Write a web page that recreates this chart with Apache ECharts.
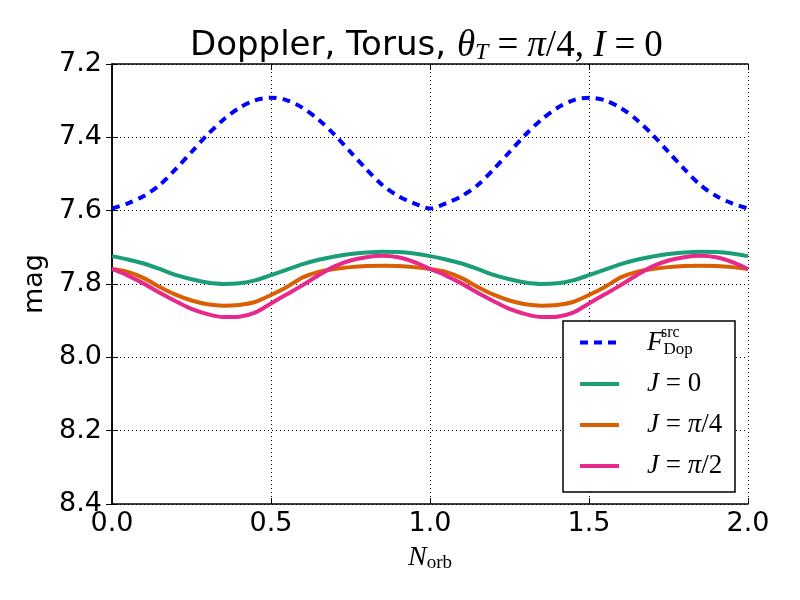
<!DOCTYPE html>
<html>
<head>
<meta charset="utf-8">
<script src="https://cdn.jsdelivr.net/npm/echarts@6/dist/echarts.min.js"></script>
<style>html,body{margin:0;padding:0;background:#fff}#c{width:800px;height:600px}</style>
</head>
<body>
<div id="c"></div>
<script>
// N_orb sample positions
const xs = [0.00,0.05,0.10,0.15,0.20,0.25,0.30,0.35,0.40,0.45,0.50,0.55,0.60,0.65,0.70,0.75,0.80,0.85,0.90,0.95,
            1.00,1.05,1.10,1.15,1.20,1.25,1.30,1.35,1.40,1.45,1.50,1.55,1.60,1.65,1.70,1.75,1.80,1.85,1.90,1.95,2.00];
// F_Dop^src (blue dashed)
const fDop = [7.594,7.580,7.560,7.530,7.487,7.440,7.393,7.352,7.320,7.299,7.292,7.299,7.320,7.352,7.393,7.440,7.487,7.530,7.560,7.580,
              7.594,7.580,7.560,7.530,7.487,7.440,7.393,7.352,7.320,7.299,7.292,7.299,7.320,7.352,7.393,7.440,7.487,7.530,7.560,7.580,7.594];
// J = 0
const j0 = [7.724,7.733,7.744,7.759,7.775,7.787,7.796,7.800,7.798,7.790,7.776,7.761,7.746,7.734,7.725,7.718,7.714,7.712,7.713,7.717,
            7.724,7.733,7.744,7.759,7.775,7.787,7.796,7.800,7.798,7.790,7.776,7.761,7.746,7.734,7.725,7.718,7.714,7.712,7.713,7.717,7.724];
// J = pi/4
const j1 = [7.759,7.767,7.784,7.808,7.829,7.845,7.855,7.859,7.857,7.849,7.830,7.808,7.782,7.767,7.759,7.754,7.751,7.750,7.751,7.754,
            7.759,7.767,7.784,7.808,7.829,7.845,7.855,7.859,7.857,7.849,7.830,7.808,7.782,7.767,7.759,7.754,7.751,7.750,7.751,7.754,7.759];
// J = pi/2
const j2 = [7.759,7.777,7.799,7.824,7.847,7.868,7.882,7.890,7.889,7.878,7.853,7.828,7.803,7.776,7.752,7.736,7.727,7.723,7.727,7.740,
            7.759,7.777,7.799,7.824,7.847,7.868,7.882,7.890,7.889,7.878,7.853,7.828,7.803,7.776,7.752,7.736,7.727,7.723,7.727,7.740,7.759];
const xTicks = [0.0, 0.5, 1.0, 1.5, 2.0];
const yTicks = [7.2, 7.4, 7.6, 7.8, 8.0, 8.2, 8.4];

const pair = arr => xs.map((x, i) => [x, arr[i]]);
const SANS = 'DejaVu Sans';
const SERIF = 'Liberation Serif';
const mathRich = {
  sp: {width: 23, fontSize: 26, lineHeight: 30},
  i: {fontFamily: SERIF, fontStyle: 'italic', fontSize: 27, color: '#000', lineHeight: 30},
  r: {fontFamily: SERIF, fontSize: 27, color: '#000', lineHeight: 30},
  sub: {fontFamily: SERIF, fontSize: 17, color: '#000', lineHeight: 30, padding: [14, 0, 0, 0]}
};

const chart = echarts.init(document.getElementById('c'), null, {renderer: 'canvas'});
const axisCommon = {
  axisLine: {show: true, lineStyle: {color: '#000', width: 1.5}},
  axisTick: {show: true, inside: true, length: 6, lineStyle: {color: '#000', width: 1}},
};
const legendNames = {
  F: '{sp| }{i|F}{sub|Dop}',
  J0: '{sp| }{i|J}{r| = 0}',
  J1: '{sp| }{i|J}{r| = }{i|π}{r|/4}',
  J2: '{sp| }{i|J}{r| = }{i|π}{r|/2}'
};
chart.setOption({
  animation: false,
  backgroundColor: '#fff',
  title: {
    left: 190, top: 26, padding: 0,
    text: '{n|Doppler, Torus,}{g| }{i|θ}{s|T}{e|=}{i|π}{r|/4, }{i|I}{e|=}{r|0}',
    textStyle: {
      fontFamily: SANS, fontWeight: 'normal', fontSize: 34, color: '#000',
      rich: {
        n: {fontFamily: SANS, fontWeight: 'normal', fontSize: 34, color: '#000', lineHeight: 40},
        g: {fontFamily: SANS, fontWeight: 'normal', fontSize: 34, lineHeight: 40, width: 11},
        i: {fontFamily: SERIF, fontWeight: 'normal', fontStyle: 'italic', fontSize: 37, color: '#000', lineHeight: 40},
        r: {fontFamily: SERIF, fontWeight: 'normal', fontSize: 37, color: '#000', lineHeight: 40},
        e: {fontFamily: SERIF, fontWeight: 'normal', fontSize: 37, color: '#000', lineHeight: 40, padding: [0, 9, 0, 9]},
        s: {fontFamily: SERIF, fontWeight: 'normal', fontStyle: 'italic', fontSize: 24, color: '#000', lineHeight: 40, padding: [14, 0, 0, 0]}
      }
    }
  },
  grid: {left: 112, right: 52, top: 64, bottom: 96, containLabel: false},
  xAxis: [
    Object.assign({
      type: 'value', min: 0, max: 2, interval: 0.5, position: 'bottom',
      name: '{i|N}{s|orb}', nameLocation: 'middle', nameGap: 36,
      nameTextStyle: {rich: {
        i: {fontFamily: SERIF, fontStyle: 'italic', fontSize: 28, color: '#000', lineHeight: 32},
        s: {fontFamily: SERIF, fontSize: 19, color: '#000', lineHeight: 32, padding: [12, 0, 0, 0]}
      }},
      axisLabel: {margin: 6, fontFamily: SANS, fontSize: 27, color: '#000', formatter: v => v.toFixed(1)},
      splitLine: {show: true, lineStyle: {color: '#000', type: [1, 3], width: 1}}
    }, axisCommon),
    Object.assign({
      type: 'value', min: 0, max: 2, interval: 0.5, position: 'top',
      axisLabel: {show: false}, splitLine: {show: false}
    }, axisCommon)
  ],
  yAxis: [
    Object.assign({
      type: 'value', min: 7.2, max: 8.4, interval: 0.2, inverse: true, position: 'left',
      name: 'mag', nameLocation: 'middle', nameGap: 58,
      nameTextStyle: {fontFamily: SANS, fontSize: 27, color: '#000'},
      axisLabel: {margin: 10, fontFamily: SANS, fontSize: 27, color: '#000', formatter: v => v.toFixed(1)},
      splitLine: {show: true, lineStyle: {color: '#000', type: [1, 3], width: 1}}
    }, axisCommon),
    Object.assign({
      type: 'value', min: 7.2, max: 8.4, interval: 0.2, inverse: true, position: 'right',
      axisLabel: {show: false}, splitLine: {show: false}
    }, axisCommon)
  ],
  legend: {
    orient: 'vertical', left: 578, top: 327, itemWidth: 39, itemHeight: 14, itemGap: 11,
    padding: 0, z: 20,
    data: ['F', 'J0', 'J1', 'J2'],
    formatter: n => legendNames[n],
    itemStyle: {opacity: 0, borderWidth: 0},
    lineStyle: {width: 4},
    textStyle: {rich: mathRich, lineHeight: 30}
  },
  graphic: [
    {type: 'rect', shape: {x: 563, y: 321, width: 172, height: 171}, z: 10,
     style: {fill: '#fff', stroke: '#000', lineWidth: 1.5}},
    {type: 'text', x: 661, y: 325, z: 30,
     style: {text: 'src', font: '16px "Liberation Serif"', fill: '#000'}}
  ],
  series: [
    {name: 'F', type: 'line', data: pair(fDop), showSymbol: false, symbol: 'none', smooth: 0.3, z: 3,
     lineStyle: {color: '#0000ff', width: 4, type: [8, 6], cap: 'butt'}, itemStyle: {color: '#0000ff'}},
    {name: 'J0', type: 'line', data: pair(j0), showSymbol: false, symbol: 'none', smooth: 0.3, z: 3,
     lineStyle: {color: '#1b9e77', width: 4}, itemStyle: {color: '#1b9e77'}},
    {name: 'J1', type: 'line', data: pair(j1), showSymbol: false, symbol: 'none', smooth: 0.3, z: 3,
     lineStyle: {color: '#d95f02', width: 4}, itemStyle: {color: '#d95f02'}},
    {name: 'J2', type: 'line', data: pair(j2), showSymbol: false, symbol: 'none', smooth: 0.3, z: 3,
     lineStyle: {color: '#e7298a', width: 4}, itemStyle: {color: '#e7298a'}}
  ]
});
</script>
</body>
</html>
